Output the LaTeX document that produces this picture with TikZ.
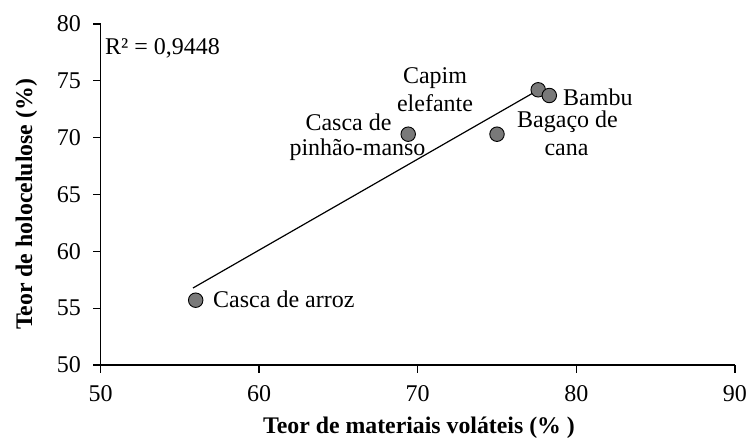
\documentclass[tikz,border=0pt]{standalone}
\usepackage{fontspec}
\setmainfont{Liberation Serif}
\begin{document}
\begin{tikzpicture}[x=1pt,y=-1pt,
  lbl/.style={inner sep=0pt,font=\fontsize{24}{28}\selectfont},
  ttl/.style={inner sep=0pt,font=\fontsize{23.8}{28}\selectfont\bfseries},
  axis/.style={line width=1.3pt,black},
  pt/.style={circle,draw=black,line width=0.9pt,fill=gray!95!black,minimum size=14.5pt,inner sep=0pt},
  trend/.style={line width=1.2pt,black}]
\useasboundingbox (0,0) rectangle (748,441);
\fill[white] (0,0) rectangle (748,441);
% axes
\coordinate (o) at (100.5,365);
\coordinate (ytop) at (100.5,24);
\coordinate (xend) at (735,365);
\draw[axis] (ytop) -- (o) -- (xend);
% y ticks
\foreach \v [count=\i] in {50,55,...,80}{
  \pgfmathsetmacro{\yy}{365-(\v-50)*11.37}
  \draw[axis] (93,\yy) -- (100.5,\yy);
  \node[lbl,anchor=east] (yl\i) at (81,\yy) {\v};
}
% x ticks
\foreach \v [count=\i] in {50,60,...,90}{
  \pgfmathsetmacro{\xx}{100.5+(\v-50)*15.86}
  \draw[axis] (\xx,365) -- (\xx,372.5);
  \node[lbl,anchor=center] (xl\i) at (\xx,394) {\v};
}
% titles
\node[ttl,anchor=base] (xt) at (419,433) {Teor de materiais voláteis (\% )};
\node[ttl,anchor=base,rotate=90] (yt) at (32,204.5) {Teor de holocelulose (\%)};
% trend line
\coordinate (t1) at (193,288);
\coordinate (t2) at (540,89);
\draw[trend] (t1) -- (t2);
% points
\node[pt] (p1) at (195.7,300.2) {};
\node[pt] (p2) at (408.2,134.2) {};
\node[pt] (p3) at (497,134.2) {};
\node[pt] (p4) at (538.2,89.8) {};
\node[pt] (p5) at (549.3,95.5) {};
% labels
\node[lbl,anchor=base west] (r2) at (105,55) {R² = 0,9448};
\node[lbl,anchor=base west] (l1) at (213,308) {Casca de arroz};
\node[lbl,anchor=base] (l2a) at (348.5,131) {Casca de};
\node[lbl,anchor=base] (l2b) at (357.5,156) {pinhão-manso};
\node[lbl,anchor=base] (l3a) at (567.5,128) {Bagaço de};
\node[lbl,anchor=base] (l3b) at (566.5,156) {cana};
\node[lbl,anchor=base] (l4a) at (435,84) {Capim};
\node[lbl,anchor=base] (l4b) at (435,112) {elefante};
\node[lbl,anchor=base west] (l5) at (563,106) {Bambu};
\end{tikzpicture}
\end{document}
